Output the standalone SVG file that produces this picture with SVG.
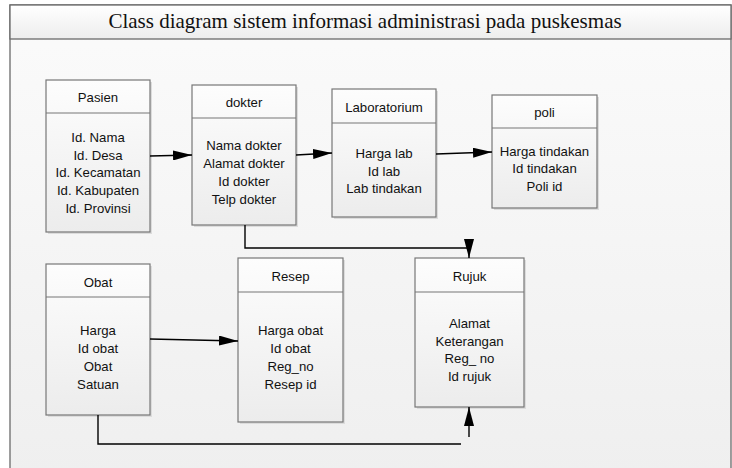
<svg xmlns="http://www.w3.org/2000/svg" width="732" height="468" viewBox="0 0 732 468">
<defs>
<linearGradient id="bg" x1="0" y1="0" x2="0" y2="1">
<stop offset="0" stop-color="#fbfbfb"/>
<stop offset="1" stop-color="#efefef"/>
</linearGradient>
<linearGradient id="hdr" x1="0" y1="0" x2="0" y2="1">
<stop offset="0" stop-color="#ffffff"/>
<stop offset="1" stop-color="#ededed"/>
</linearGradient>
<linearGradient id="box" x1="0" y1="0" x2="0" y2="1">
<stop offset="0" stop-color="#fdfdfd"/>
<stop offset="1" stop-color="#ececec"/>
</linearGradient>
<marker id="arr" viewBox="0 0 19 10" refX="19" refY="5" markerWidth="19" markerHeight="10" markerUnits="userSpaceOnUse" orient="auto">
<path d="M0,0 L19,5 L0,10 Z" fill="#000"/>
</marker>
</defs>
<style>
.frame{fill:url(#bg);stroke:#6a6a6a;stroke-width:1.3}
.head{fill:url(#hdr);stroke:#6a6a6a;stroke-width:1.3}
.title{font-family:"Liberation Serif","Times New Roman",serif;font-size:21px;fill:#111;text-anchor:middle}
.shadow{fill:#dcdcdc;stroke:none}
.cls{fill:url(#box);stroke:#777;stroke-width:1.2}
.div{stroke:#777;stroke-width:1.2}
.t{font-family:"Liberation Sans",Arial,sans-serif;font-size:13.2px;fill:#111;text-anchor:middle}
.conn{fill:none;stroke:#000;stroke-width:1.4}
</style>
<rect class="frame" x="10" y="5" width="721" height="470"/>
<rect class="head" x="10" y="5" width="721" height="34"/>
<text class="title" x="365" y="28">Class diagram sistem informasi administrasi pada puskesmas</text>

<g id="pasien">
<rect class="shadow" x="48" y="82" width="104" height="152"/>
<rect class="cls" x="46" y="80" width="104" height="152"/>
<line class="div" x1="46" y1="113" x2="150" y2="113"/>
<text class="t" x="98" y="101.5">Pasien</text>
<text class="t" x="98" y="141.5">Id. Nama</text>
<text class="t" x="98" y="159.5">Id. Desa</text>
<text class="t" x="98" y="177">Id. Kecamatan</text>
<text class="t" x="98" y="195">Id. Kabupaten</text>
<text class="t" x="98" y="212.5">Id. Provinsi</text>
</g>

<g id="dokter">
<rect class="shadow" x="194" y="87" width="104" height="140"/>
<rect class="cls" x="192" y="85" width="104" height="140"/>
<line class="div" x1="192" y1="118" x2="296" y2="118"/>
<text class="t" x="244" y="106.5">dokter</text>
<text class="t" x="244" y="149.5">Nama dokter</text>
<text class="t" x="244" y="167.5">Alamat dokter</text>
<text class="t" x="244" y="185.5">Id dokter</text>
<text class="t" x="244" y="203.5">Telp dokter</text>
</g>

<g id="laboratorium">
<rect class="shadow" x="334" y="91" width="104" height="128"/>
<rect class="cls" x="332" y="89" width="104" height="128"/>
<line class="div" x1="332" y1="123" x2="436" y2="123"/>
<text class="t" x="384" y="111.5">Laboratorium</text>
<text class="t" x="384" y="157.5">Harga lab</text>
<text class="t" x="384" y="175.5">Id lab</text>
<text class="t" x="384" y="192.5">Lab tindakan</text>
</g>

<g id="poli">
<rect class="shadow" x="494" y="97" width="105" height="113"/>
<rect class="cls" x="492" y="95" width="105" height="113"/>
<line class="div" x1="492" y1="128" x2="597" y2="128"/>
<text class="t" x="544.5" y="116.5">poli</text>
<text class="t" x="544.5" y="155.5">Harga tindakan</text>
<text class="t" x="544.5" y="172.5">Id tindakan</text>
<text class="t" x="544.5" y="190.5">Poli id</text>
</g>

<g id="obat">
<rect class="shadow" x="48" y="266" width="104" height="151"/>
<rect class="cls" x="46" y="264" width="104" height="151"/>
<line class="div" x1="46" y1="297" x2="150" y2="297"/>
<text class="t" x="98" y="286.5">Obat</text>
<text class="t" x="98" y="334.5">Harga</text>
<text class="t" x="98" y="352.5">Id obat</text>
<text class="t" x="98" y="370.5">Obat</text>
<text class="t" x="98" y="388.5">Satuan</text>
</g>

<g id="resep">
<rect class="shadow" x="240" y="260" width="105" height="164"/>
<rect class="cls" x="238" y="258" width="105" height="164"/>
<line class="div" x1="238" y1="292" x2="343" y2="292"/>
<text class="t" x="290.5" y="280.5">Resep</text>
<text class="t" x="290.5" y="334.5">Harga obat</text>
<text class="t" x="290.5" y="352.5">Id obat</text>
<text class="t" x="290.5" y="371">Reg_no</text>
<text class="t" x="290.5" y="388.5">Resep id</text>
</g>

<g id="rujuk">
<rect class="shadow" x="417" y="260" width="109" height="149"/>
<rect class="cls" x="415" y="258" width="109" height="149"/>
<line class="div" x1="415" y1="292" x2="524" y2="292"/>
<text class="t" x="469.5" y="280.5">Rujuk</text>
<text class="t" x="469.5" y="327.5">Alamat</text>
<text class="t" x="469.5" y="345.5">Keterangan</text>
<text class="t" x="469.5" y="362.5">Reg_ no</text>
<text class="t" x="469.5" y="380.5">Id rujuk</text>
</g>

<g id="connectors">
<line class="conn" x1="150" y1="156" x2="192" y2="155" marker-end="url(#arr)"/>
<line class="conn" x1="296" y1="155" x2="332" y2="153" marker-end="url(#arr)"/>
<line class="conn" x1="436" y1="154" x2="492" y2="152" marker-end="url(#arr)"/>
<path class="conn" d="M245,225 V248 H469 V258" marker-end="url(#arr)"/>
<line class="conn" x1="150" y1="339" x2="238" y2="341" marker-end="url(#arr)"/>
<path class="conn" d="M98,415 V444 H461"/>
<path class="conn" d="M469,437 V407" marker-end="url(#arr)"/>
</g>
</svg>
